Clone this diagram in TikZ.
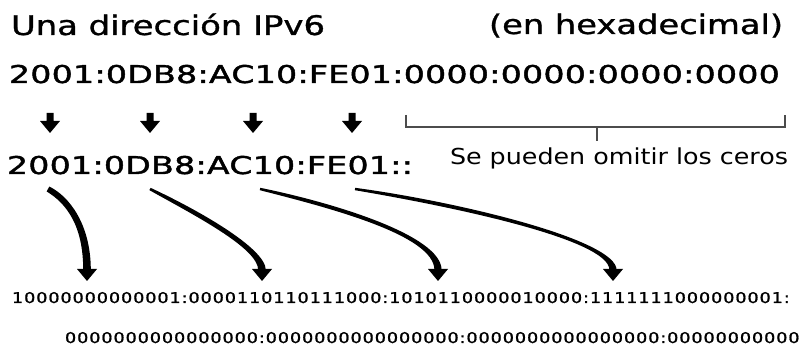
\documentclass[tikz,border=0pt]{standalone}
\usepackage{fontspec}
\setmainfont{DejaVu Sans}[FakeBold=1]
\newfontfamily\notefam{DejaVu Sans}
\newfontfamily\hexfam[LetterSpace=1,FakeBold=1.5]{DejaVu Sans}
\newfontfamily\binfam[LetterSpace=5,FakeBold=1]{DejaVu Sans}
\usetikzlibrary{calc}
\newlength\natw
\newlength\natv
\newcommand\hexsel{\hexfam\fontsize{24.5pt}{28pt}\selectfont}
\newcommand\binsel{\binfam\fontsize{14.8pt}{16pt}\selectfont}
\AtBeginDocument{%
  \settowidth\natw{\hexsel 2001:0DB8:AC10:FE01:0000:0000:0000:0000}%
  \settowidth\natv{\binsel 10000000000001:0000110110111000:1010110000010000:1111111000000001:}%
  \pgfmathsetmacro\hexk{771/\natw}%
  \pgfmathsetmacro\bink{778/\natv}%
}
\newcommand\taperarrow[7]{%
  \fill ($(#1)!#5!90:(#2)$) .. controls ($(#2)!#6!-90:(#1)$) and ($(#3)+(#7,0)$) .. ($(#4)+(#7,0)$)
     -- ($(#4)+(-#7,0)$) .. controls ($(#3)+(-#7,0)$) and ($(#2)!#6!90:(#1)$) .. ($(#1)!#5!-90:(#2)$) -- cycle;
  \fill ($(#4)+(-10,-1)$) -- ($(#4)+(10,-1)$) -- ($(#4)+(0,11)$) -- cycle;}
\tikzset{
  txt/.style={inner sep=0pt, outer sep=0pt, anchor=base west},
  brk/.style={draw=black!70, line width=1.6pt},
  downarrow/.pic={\fill (-3.5,0) -- (3.5,0) -- (3.5,8) -- (10,8) -- (0,20) -- (-10,8) -- (-3.5,8) -- cycle;}
}
\begin{document}
\begin{tikzpicture}[x=1pt,y=-1pt]
\useasboundingbox (0,0) rectangle (800,344);
\clip (0,0) rectangle (800,344);
% texts
\node[txt] (title) at (11,35) {\resizebox{314pt}{\height}{\fontsize{27pt}{30pt}\selectfont Una dirección IPv6}};
\node[txt] (hexnote) at (489,34) {\resizebox{294pt}{\height}{\fontsize{27pt}{30pt}\selectfont (en hexadecimal)}};
\node[txt] (hexfull) at (9,83) {\scalebox{\hexk}[1]{\hexsel 2001:0DB8:AC10:FE01:0000:0000:0000:0000}};
\node[txt] (hexshort) at (7,174) {\scalebox{\hexk}[1]{\hexsel 2001:0DB8:AC10:FE01::}};
\node[txt] (omit) at (450,165) {\resizebox{338pt}{\height}{\notefam\fontsize{22pt}{24pt}\selectfont Se pueden omitir los ceros}};
\node[txt] (bin1) at (12,303) {\scalebox{\bink}[1]{\binsel 10000000000001:0000110110111000:1010110000010000:1111111000000001:}};
\node[txt] (bin2) at (65,343) {\scalebox{\bink}[1]{\binsel 0000000000000000:0000000000000000:0000000000000000:0000000000000000}};
% small arrows
\coordinate (d1) at (50,113);
\coordinate (d2) at (150,113);
\coordinate (d3) at (253,113);
\coordinate (d4) at (352,113);
\foreach \n in {d1,d2,d3,d4} \pic at (\n) {downarrow};
% bracket
\coordinate (bl) at (406,115);
\coordinate (br) at (785,115);
\coordinate (bm) at (597,127);
\draw[brk] (bl) -- (bl |- bm) -- (br |- bm) -- (br);
\draw[brk] (bm) -- ++(0,14);
% curved arrows
\coordinate (s1) at (48,189);  \coordinate (p1) at (68,200);  \coordinate (q1) at (87,225);  \coordinate (e1) at (87,270);
\coordinate (s2) at (150,189); \coordinate (p2) at (195,212); \coordinate (q2) at (262,248); \coordinate (e2) at (262,270);
\coordinate (s3) at (260,189); \coordinate (p3) at (330,205); \coordinate (q3) at (438,235); \coordinate (e3) at (438,270);
\coordinate (s4) at (355,189); \coordinate (p4) at (460,205); \coordinate (q4) at (613,240); \coordinate (e4) at (613,270);
\taperarrow{s1}{p1}{q1}{e1}{2.8pt}{3.8pt}{3.8}
\taperarrow{s2}{p2}{q2}{e2}{1.3pt}{3.2pt}{3.8}
\taperarrow{s3}{p3}{q3}{e3}{1.2pt}{3pt}{3.6}
\taperarrow{s4}{p4}{q4}{e4}{1.2pt}{3pt}{3.6}
\end{tikzpicture}
\end{document}
